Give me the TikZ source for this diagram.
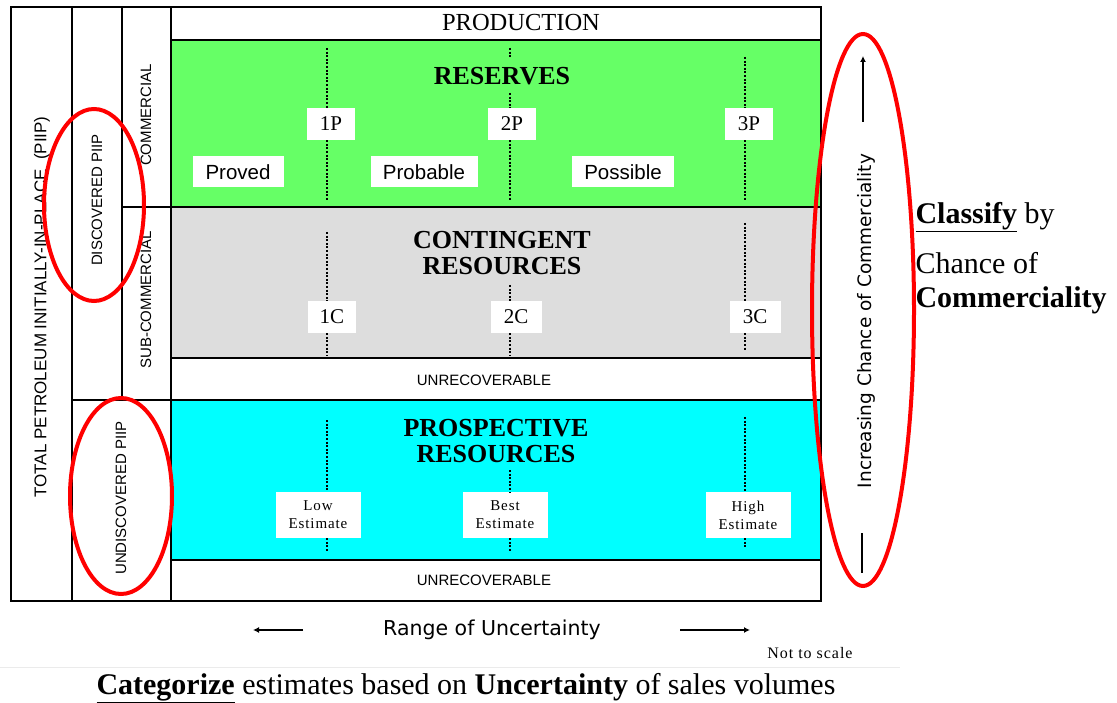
\documentclass[tikz,border=0pt]{standalone}
\usepackage{fontspec}
\setmainfont{Liberation Serif}
\newfontfamily\arialf{Liberation Sans}
\newfontfamily\dejavuf{DejaVu Sans}
\newfontfamily\spacedserif[LetterSpace=6]{Liberation Serif}
\usetikzlibrary{arrows.meta}
\definecolor{resgreen}{HTML}{66FF66}
\definecolor{contgray}{HTML}{DDDDDD}
\definecolor{prospcyan}{HTML}{00FFFF}
\definecolor{ringred}{HTML}{FF0000}
\tikzset{
  frameline/.style={line width=2pt, draw=black},
  dotline/.style={line width=2.6pt, dash pattern=on 2pt off 1.6pt},
  numbox/.style={fill=white, inner sep=0pt, minimum width=48pt, minimum height=32pt, font=\fontsize{21}{21}\selectfont},
  catbox/.style={fill=white, inner sep=0pt, minimum height=31pt, font=\arialf\fontsize{20.5}{20.5}\selectfont},
  estbox/.style={fill=white, inner sep=0pt, minimum width=85pt, minimum height=46pt, align=center, font=\spacedserif\fontsize{15}{18}\selectfont},
  bigtitle/.style={align=center, font=\bfseries\fontsize{26}{26}\selectfont},
  unrec/.style={font=\arialf\fontsize{15}{15}\selectfont},
  sidetext/.style={rotate=90, font=\arialf\fontsize{15}{15}\selectfont},
  ring/.style={draw=ringred, line width=4pt},
  axisarrow/.style={line width=1.6pt, -{Latex[length=6pt,width=6pt]}},
}
\begin{document}
\begin{tikzpicture}[x=1pt,y=-1pt]
\useasboundingbox (0,0) rectangle (1117,703);
\fill[white] (0,0) rectangle (1117,703);

% coloured bands
\fill[resgreen] (171,40) rectangle (821,207);
\fill[contgray] (171,207) rectangle (821,358);
\fill[prospcyan] (171,400) rectangle (821,560);

% grid
\draw[frameline] (11,7) rectangle (821,601);
\draw[frameline] (72,7) -- (72,601);
\draw[frameline] (122,7) -- (122,400);
\draw[frameline] (171,7) -- (171,601);
\draw[frameline] (171,40) -- (821,40);
\draw[frameline] (122,207) -- (821,207);
\draw[frameline] (171,358) -- (821,358);
\draw[frameline] (72,400) -- (821,400);
\draw[frameline] (171,560) -- (821,560);

% left column texts
\node[sidetext, font=\arialf\fontsize{17}{17}\selectfont] (total) at (42,307) {TOTAL PETROLEUM INITIALLY-IN-PLACE\ \ (PIIP)};
\node[sidetext] (disc) at (97,200) {DISCOVERED PIIP};
\node[sidetext] (undisc) at (121,498) {UNDISCOVERED PIIP};
\node[sidetext] (comm) at (146,115) {COMMERCIAL};
\node[sidetext] (subcomm) at (146,300) {SUB-COMMERCIAL};

% headings
\node[font=\fontsize{24.5}{24.5}\selectfont] (prod) at (521,23) {PRODUCTION};
\node[bigtitle] (res) at (502,76) {RESERVES};
\node[bigtitle] (cont) at (502,253) {CONTINGENT\\RESOURCES};
\node[bigtitle] (prosp) at (496,441) {PROSPECTIVE\\RESOURCES};
\node[unrec] (unrec1) at (484,380) {UNRECOVERABLE};
\node[unrec] (unrec2) at (484,580) {UNRECOVERABLE};

% reserves
\node[numbox] (p1) at (331,124) {1P};
\node[numbox] (p2) at (512,124) {2P};
\node[numbox] (p3) at (749,124) {3P};
\node[catbox, minimum width=91pt] (proved) at (238,172) {Proved};
\node[catbox, minimum width=107pt] (probable) at (424,172) {Probable};
\node[catbox, minimum width=102pt] (possible) at (623,172) {Possible};
\coordinate (p1t) at (327,48);  \coordinate (p1b) at (327,200);
\coordinate (p2a) at (510,48);  \coordinate (p2c) at (510,58);
\coordinate (p2t) at (510,93);  \coordinate (p2b) at (510,200);
\coordinate (p3t) at (745,57);  \coordinate (p3b) at (745,200);
\draw[dotline] (p1t) -- (p1t |- p1.north);
\draw[dotline] (p1b |- p1.south) -- (p1b);
\draw[dotline] (p2a) -- (p2c);
\draw[dotline] (p2t) -- (p2t |- p2.north);
\draw[dotline] (p2b |- p2.south) -- (p2b);
\draw[dotline] (p3t) -- (p3t |- p3.north);
\draw[dotline] (p3b |- p3.south) -- (p3b);

% contingent
\node[numbox] (c1) at (332,317) {1C};
\node[numbox, minimum width=51pt] (c2) at (516,317) {2C};
\node[numbox, minimum width=51pt] (c3) at (755,317) {3C};
\coordinate (c1t) at (327,232); \coordinate (c1b) at (327,356);
\coordinate (c2t) at (510,285); \coordinate (c2b) at (510,356);
\coordinate (c3t) at (745,223); \coordinate (c3b) at (745,350);
\draw[dotline] (c1t) -- (c1t |- c1.north);
\draw[dotline] (c1b |- c1.south) -- (c1b);
\draw[dotline] (c2t) -- (c2t |- c2.north);
\draw[dotline] (c2b |- c2.south) -- (c2b);
\draw[dotline] (c3t) -- (c3t |- c3.north);
\draw[dotline] (c3b |- c3.south) -- (c3b);

% prospective
\node[estbox] (low) at (318,515) {Low\\Estimate};
\node[estbox] (best) at (505,515) {Best\\Estimate};
\node[estbox] (high) at (748,515) {High\\Estimate};
\coordinate (lt) at (327,420); \coordinate (lb) at (327,551);
\coordinate (bt) at (510,470); \coordinate (bb) at (510,551);
\coordinate (ht) at (745,417); \coordinate (hb) at (745,548);
\draw[dotline] (lt) -- (lt |- low.north);
\draw[dotline] (lb |- low.south) -- (lb);
\draw[dotline] (bt) -- (bt |- best.north);
\draw[dotline] (bb |- best.south) -- (bb);
\draw[dotline] (ht) -- (ht |- high.north);
\draw[dotline] (hb |- high.south) -- (hb);

% right axis
\node[rotate=90, font=\dejavuf\fontsize{18.5}{18.5}\selectfont] (inc) at (866,321) {Increasing Chance of Commerciality};
\coordinate (upA) at (863,122); \coordinate (upB) at (863,56);
\draw[axisarrow, line width=1.8pt] (upA) -- (upB);
\coordinate (dnA) at (862,533); \coordinate (dnB) at (862,573);
\draw[line width=1.8pt] (dnA) -- (dnB);

\node[anchor=west, font=\fontsize{30}{30}\selectfont] (classify) at (912,217) {\underline{\textbf{Classify}} by};
\node[anchor=west, font=\fontsize{30}{30}\selectfont] (chance) at (912,263) {Chance of};
\node[anchor=west, font=\bfseries\fontsize{30}{30}\selectfont] (commer) at (912,300) {Commerciality};

% bottom axis
\node[font=\dejavuf\fontsize{20.5}{20.5}\selectfont] (range) at (492,630) {Range of Uncertainty};
\coordinate (lA) at (303,630); \coordinate (lB) at (253,630);
\coordinate (rA) at (680,630); \coordinate (rB) at (750,630);
\draw[axisarrow] (lA) -- (lB);
\draw[axisarrow] (rA) -- (rB);
\node[font=\spacedserif\fontsize{16}{16}\selectfont] (nts) at (810,653) {Not to scale};
\draw[black!8, line width=0.8pt] (0,667) -- (900,667);
\node[font=\fontsize{30}{30}\selectfont] (caption) at (466,688) {\underline{\textbf{Categorize}} estimates based on \textbf{Uncertainty} of sales volumes};

% red rings
\draw[ring] (94,205) ellipse [x radius=50, y radius=96];
\draw[ring] (121,496) ellipse [x radius=51, y radius=98];
\draw[ring] (863,310) ellipse [x radius=51, y radius=276];
\end{tikzpicture}
\end{document}
